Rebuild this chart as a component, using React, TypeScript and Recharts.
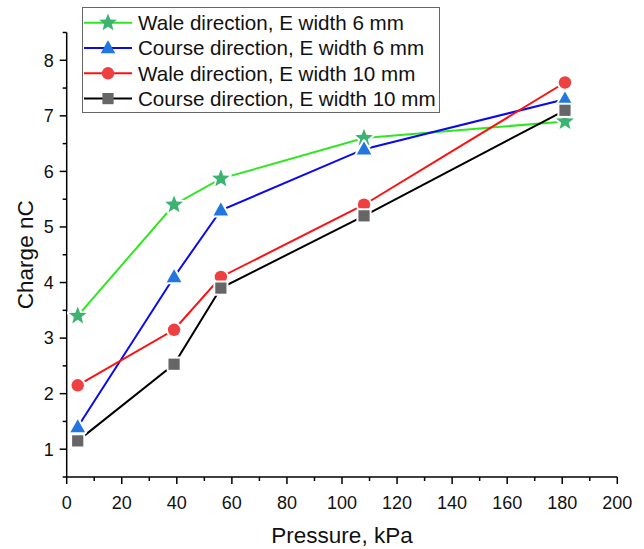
import React from 'react';
import { LineChart, Line, XAxis, YAxis, Label } from 'recharts';

const pressure = [4, 39, 56, 108, 181];
const wale6 = [3.4, 5.4, 5.87, 6.6, 6.9];
const course6 = [1.4, 4.1, 5.3, 6.4, 7.3];
const wale10 = [2.15, 3.15, 4.1, 5.4, 7.6];
const course10 = [1.15, 2.53, 3.9, 5.2, 7.1];

const xTicks = [0, 10, 20, 30, 40, 50, 60, 70, 80, 90, 100, 110, 120, 130, 140, 150, 160, 170, 180, 190, 200];
const yTicks = [0.5, 1, 1.5, 2, 2.5, 3, 3.5, 4, 4.5, 5, 5.5, 6, 6.5, 7, 7.5, 8, 8.5];

const seriesNames = [
  'Wale direction, E width 6 mm',
  'Course direction, E width 6 mm',
  'Wale direction, E width 10 mm',
  'Course direction, E width 10 mm',
];

const data = pressure.map((p, i) => ({
  p,
  w6: wale6[i],
  c6: course6[i],
  w10: wale10[i],
  c10: course10[i],
}));

const FONT = "Arial, 'Liberation Sans', sans-serif";

type Shape = 'star' | 'triangle' | 'circle' | 'square';

const starPoints = (cx: number, cy: number, ro: number, ri: number) => {
  const pts: string[] = [];
  for (let k = 0; k < 10; k++) {
    const r = k % 2 === 0 ? ro : ri;
    const a = -Math.PI / 2 + (k * Math.PI) / 5;
    pts.push(`${cx + r * Math.cos(a)},${cy + r * Math.sin(a)}`);
  }
  return pts.join(' ');
};

const Marker = ({ shape, cx, cy, color, halo = true }: { shape: Shape; cx: number; cy: number; color: string; halo?: boolean }) => {
  const common = {
    fill: color,
    stroke: halo ? '#fff' : 'none',
    strokeWidth: halo ? 4 : 0,
    paintOrder: 'stroke' as any,
    strokeLinejoin: 'round' as any,
  };
  if (shape === 'star') return <polygon points={starPoints(cx, cy, 9.3, 4)} {...common} />;
  if (shape === 'triangle')
    return <polygon points={`${cx},${cy - 7.8} ${cx + 7.3},${cy + 5.2} ${cx - 7.3},${cy + 5.2}`} {...common} />;
  if (shape === 'circle') return <circle cx={cx} cy={cy} r={6.2} {...common} />;
  return <rect x={cx - 5.6} y={cy - 5.6} width={11.2} height={11.2} {...common} />;
};

const makeDot = (shape: Shape, color: string) => (props: any) => {
  const { cx, cy, index } = props;
  if (cx == null || cy == null) return <g key={`e${index}`} />;
  return (
    <g key={`${shape}-${index}`}>
      <Marker shape={shape} cx={cx} cy={cy} color={color} />
    </g>
  );
};

const series = [
  { key: 'w6', line: '#2EE81E', marker: '#3CB371', shape: 'star' as Shape },
  { key: 'c6', line: '#0A0AF0', marker: '#2176E0', shape: 'triangle' as Shape },
  { key: 'w10', line: '#FF1010', marker: '#EE4040', shape: 'circle' as Shape },
  { key: 'c10', line: '#000000', marker: '#666666', shape: 'square' as Shape },
];

const XTick = (props: any) => {
  const { x, y, payload } = props;
  const major = payload.value % 20 === 0;
  return (
    <g>
      <line x1={x} x2={x} y1={y} y2={y + (major ? 7 : 4)} stroke="#000" strokeWidth={1.5} />
      {major && (
        <text x={x} y={y + 26} dy="0.35em" textAnchor="middle" fontSize={18} fill="#111" fontFamily={FONT}>
          {payload.value}
        </text>
      )}
    </g>
  );
};

const YTick = (props: any) => {
  const { x, y, payload } = props;
  const major = Number.isInteger(payload.value);
  return (
    <g>
      <line x1={x} x2={x - (major ? 7 : 4)} y1={y} y2={y} stroke="#000" strokeWidth={1.5} />
      {major && (
        <text x={x - 13} y={y} dy="0.35em" textAnchor="end" fontSize={18} fill="#111" fontFamily={FONT}>
          {payload.value}
        </text>
      )}
    </g>
  );
};

const LegendBox = () => (
  <div
    style={{
      position: 'absolute',
      left: 82,
      top: 7,
      width: 358,
      height: 106,
      border: '1px solid #666',
      background: '#fff',
      boxSizing: 'border-box',
    }}
  >
    <svg width={358} height={106} style={{ position: 'absolute', left: -1, top: -1 }}>
      {series.map((s, i) => {
        const cy = 15.7 + i * 25.3;
        return (
          <g key={s.key}>
            <line x1={2} x2={50} y1={cy} y2={cy} stroke={s.line} strokeWidth={2} />
            <Marker shape={s.shape} cx={26} cy={cy} color={s.marker} halo={false} />
            <text x={56} y={cy} dy="0.36em" fontSize={20.6} fill="#111" fontFamily={FONT}>
              {seriesNames[i]}
            </text>
          </g>
        );
      })}
    </svg>
  </div>
);

export default function App() {
  return (
    <div style={{ position: 'absolute', left: 0, top: 0, width: 644, height: 549, background: '#fff' }}>
      <LineChart width={644} height={549} data={data} margin={{ top: 32.5, right: 26.7, bottom: 32, left: 6.7 }}>
        <XAxis
          dataKey="p"
          type="number"
          domain={[0, 200]}
          ticks={xTicks}
          interval={0}
          height={40}
          tickSize={0}
          tickMargin={0}
          tickLine={false}
          axisLine={{ stroke: '#000', strokeWidth: 1.5 }}
          tick={<XTick />}
        >
          <Label
            content={(p: any) => {
              const vb = p.viewBox || {};
              return (
                <text x={vb.x + vb.width / 2} y={vb.y + 58} dy="0.35em" textAnchor="middle" fontSize={22.5} fill="#111" fontFamily={FONT}>
                  Pressure, kPa
                </text>
              );
            }}
          />
        </XAxis>
        <YAxis
          type="number"
          domain={[0.5, 8.5]}
          ticks={yTicks}
          interval={0}
          width={60}
          tickSize={0}
          tickMargin={0}
          tickLine={false}
          axisLine={{ stroke: '#000', strokeWidth: 1.5 }}
          tick={<YTick />}
        >
          <Label
            content={(p: any) => {
              const vb = p.viewBox || {};
              const cx = vb.x + 18.3;
              const cy = vb.y + vb.height / 2;
              return (
                <text x={cx} y={cy} dy="0.35em" textAnchor="middle" fontSize={22.5} fill="#111" fontFamily={FONT} transform={`rotate(-90 ${cx} ${cy})`}>
                  Charge nC
                </text>
              );
            }}
          />
        </YAxis>
        {series.map((s) => (
          <Line
            key={s.key}
            dataKey={s.key}
            type="linear"
            stroke={s.line}
            strokeWidth={2}
            dot={makeDot(s.shape, s.marker)}
            activeDot={false}
            isAnimationActive={false}
          />
        ))}
      </LineChart>
      <LegendBox />
    </div>
  );
}
